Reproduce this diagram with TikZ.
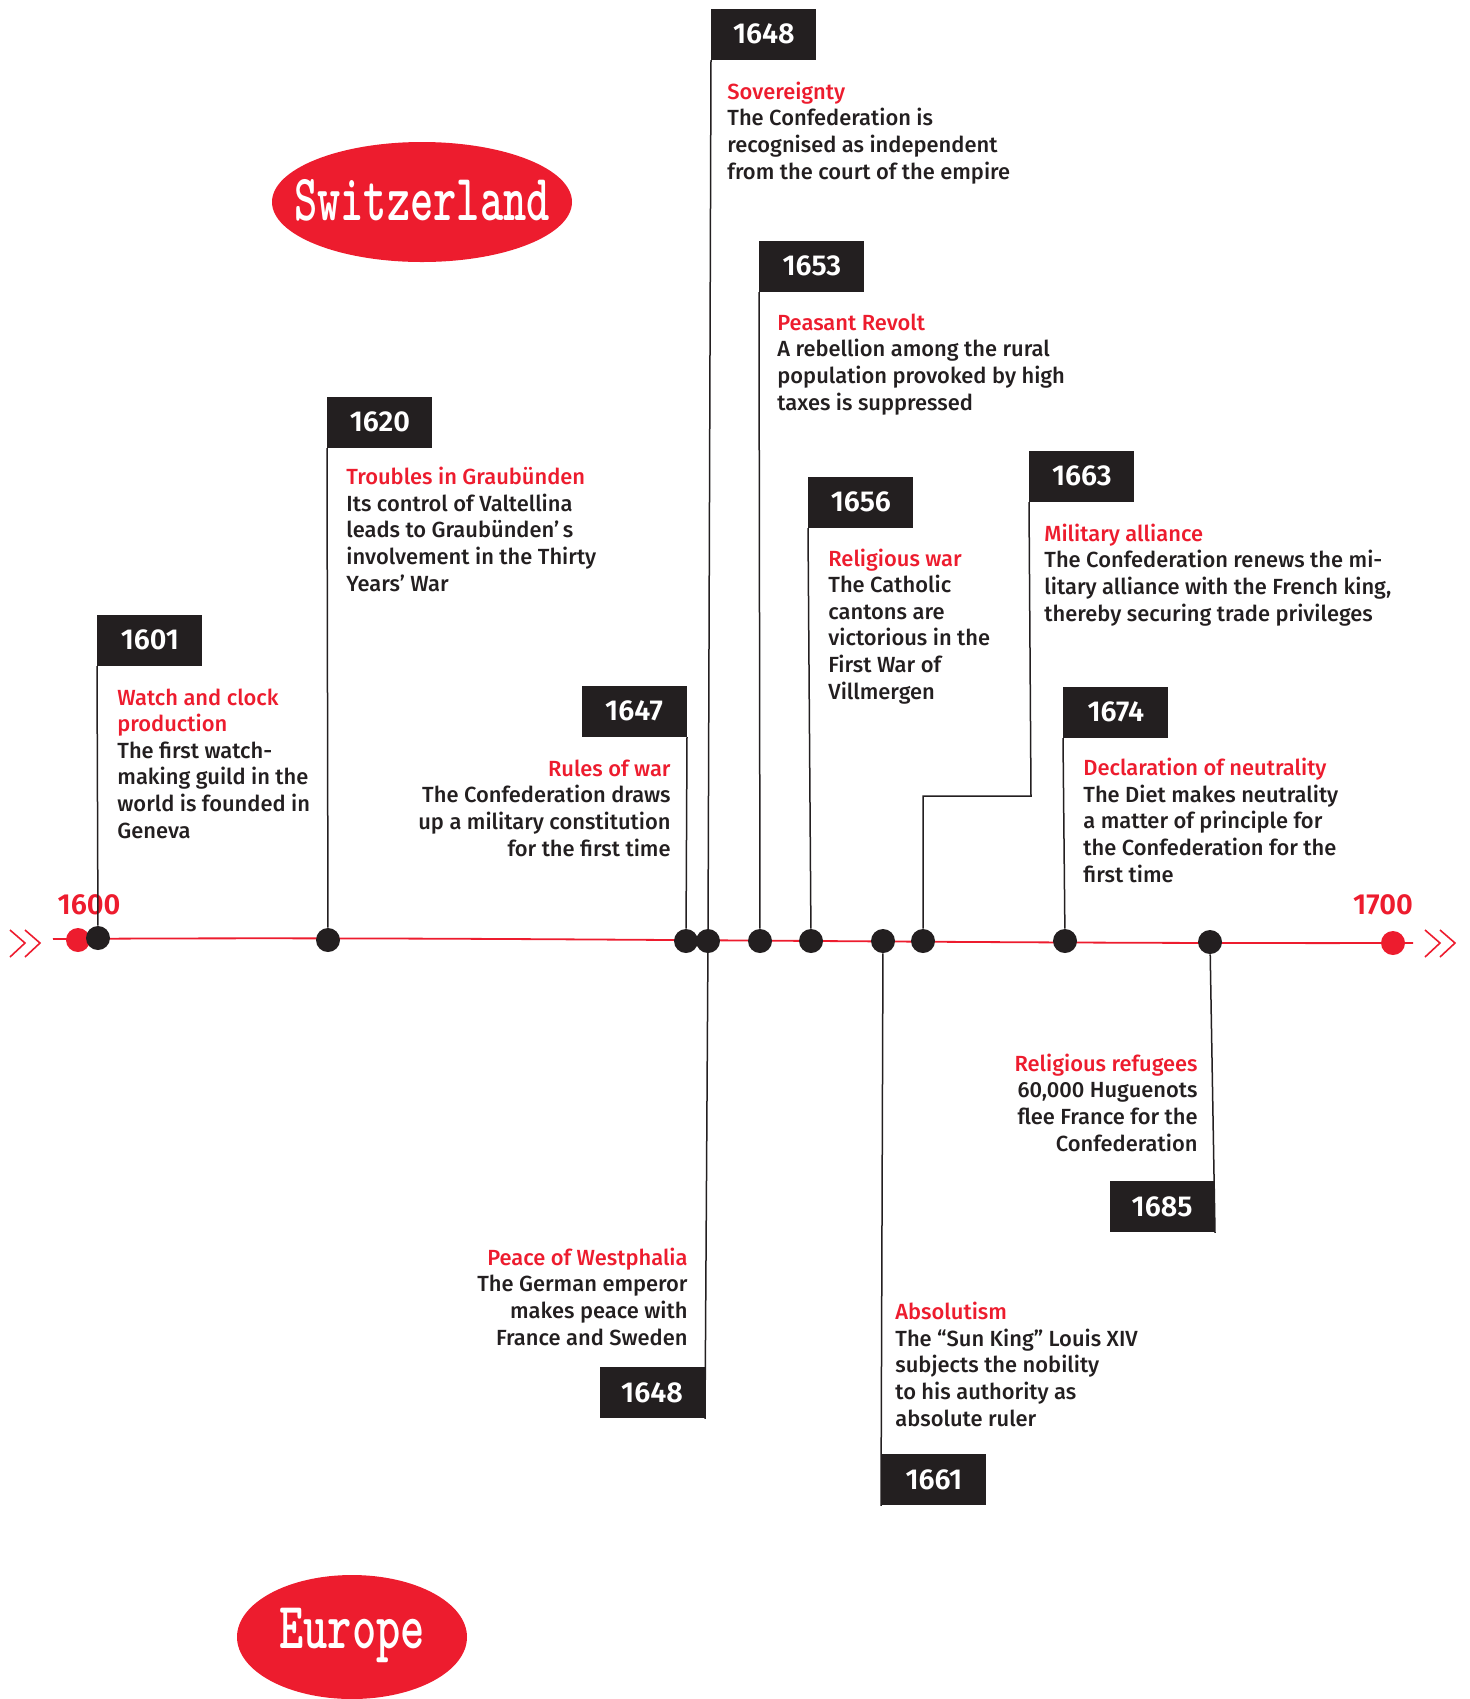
\documentclass[tikz,border=0pt]{standalone}
\usepackage{fontspec}
\setmainfont{Fira Sans}[UprightFont={* Medium},BoldFont={* SemiBold}]

\begin{document}
\begin{tikzpicture}[x=0.5pt,y=-0.5pt,
  flag/.style={fill=inkblack,text=white,minimum width=52.5pt,minimum height=25.5pt,
    inner sep=0pt,font=\fontsize{14.4}{15}\selectfont\bfseries},
  dot/.style={circle,fill=inkblack,minimum size=12pt,inner sep=0pt},
  reddot/.style={circle,fill=swissred,minimum size=12pt,inner sep=0pt},
  pole/.style={draw=inkblack,line width=0.75pt},
  story/.style={inner sep=0pt,text=inkblack,font=\fontsize{10.95}{13.3}\selectfont},
  endyear/.style={text=swissred,font=\fontsize{14.5}{15}\selectfont\bfseries},
  badge/.style={inner sep=0pt,text=white,font=\fontsize{33}{33}\selectfont\ttfamily\bfseries}]
  \definecolor{swissred}{HTML}{ED1C2E}
  \definecolor{inkblack}{HTML}{231F20}
  \useasboundingbox (0,0) rectangle (1470,1699);

  % headings
  \fill[swissred] (422,202) ellipse [x radius=150,y radius=60];
  \fill[swissred] (352,1637) ellipse [x radius=115,y radius=62];
  \node[badge] (swiss) at (422,200) {\scalebox{0.67}[1]{Switzerland}};
  \node[badge] (europe) at (352,1635) {\scalebox{0.7}[1]{Europe}};

  % time axis
  \coordinate (axisL) at (53,939);
  \coordinate (axisR) at (1413,943);
  \draw[swissred,line width=0.9pt] (axisL) .. controls (500,936) and (900,944) .. (axisR);
  \draw[swissred,line width=0.8pt] (10,930) -- (25,943) -- (10,957) (25,930) -- (40,943) -- (25,957);
  \draw[swissred,line width=0.8pt] (1425,930) -- (1440,943) -- (1425,957) (1440,930) -- (1455,943) -- (1440,957);
  \node[endyear] (y1600) at (89,905) {1600};
  \node[endyear] (y1700) at (1383,905) {1700};

  % flags above the axis
  \node[flag,anchor=south west] (f1601) at (97,666) {1601};
  \node[flag,anchor=south west] (f1620) at (327,448) {1620};
  \node[flag,anchor=south east] (f1647) at (687,737) {1647};
  \node[flag,anchor=south west] (f1648a) at (711,60) {1648};
  \node[flag,anchor=south west] (f1653) at (759,292) {1653};
  \node[flag,anchor=south west] (f1656) at (808,528) {1656};
  \node[flag,anchor=south west] (f1663) at (1029,502) {1663};
  \node[flag,anchor=south west] (f1674) at (1063,738) {1674};
  % flags below the axis
  \node[flag,anchor=north east] (f1648b) at (705,1367) {1648};
  \node[flag,anchor=north west] (f1661) at (881,1454) {1661};
  \node[flag,anchor=north east] (f1685) at (1215,1181) {1685};

  % dots
  \node[reddot] (d1600) at (78,940) {};
  \node[reddot] (d1700) at (1393,943) {};
  \foreach \yr/\px/\py in {1601/98/938,1620/328/940,1647/686/941,1648/708/941,
      1653/760/941,1656/811/941,1661/883/941,1663/923/941,1674/1065/941,1685/1210/942}
    \node[dot] (d\yr) at (\px,\py) {};

  % poles
  \draw[pole] (f1601.south west) -- (d1601);
  \draw[pole] (f1620.south west) -- (d1620);
  \draw[pole] (f1647.south east) -- (d1647);
  \draw[pole] (f1648a.south west) -- (d1648.center) -- (f1648b.south east);
  \draw[pole] (f1653.south west) -- (d1653);
  \draw[pole] (f1656.south west) -- (d1656);
  \coordinate (k1663) at (1031,796);
  \draw[pole] (f1663.south west) -- (k1663) -| (d1663);
  \draw[pole] (f1674.south west) -- (d1674);
  \draw[pole] (d1661) -- (f1661.south west);
  \draw[pole] (d1685) -- (f1685.south east);

  % Switzerland
  \node[story,anchor=base west,align=left] (t1601) at (117,838)
    {\textcolor{swissred}{Watch and clock}\\\textcolor{swissred}{production}\\
     The first watch-\\making guild in the\\world is founded in\\Geneva};
  \node[story,anchor=base west,align=left] (t1620) at (346,591)
    {\textcolor{swissred}{Troubles in Graubünden}\\Its control of Valtellina\\
     leads to Graubünden’\,s\\involvement in the Thirty\\Years’ War};
  \node[story,anchor=base east,align=right] (t1647) at (671,856)
    {\textcolor{swissred}{Rules of war}\\The Confederation draws\\
     up a military constitution\\for the first time};
  \node[story,anchor=base west,align=left] (t1648a) at (727,179)
    {\textcolor{swissred}{Sovereignty}\\The Confederation is\\
     recognised as independent\\from the court of the empire};
  \node[story,anchor=base west,align=left] (t1653) at (777,410)
    {\textcolor{swissred}{Peasant Revolt}\\A rebellion among the rural\\
     population provoked by high\\taxes is suppressed};
  \node[story,anchor=base west,align=left] (t1656) at (828,699)
    {\textcolor{swissred}{Religious war}\\The Catholic\\cantons are\\
     victorious in the\\First War of\\Villmergen};
  \node[story,anchor=base west,align=left] (t1663) at (1044,621)
    {\textcolor{swissred}{Military alliance}\\The Confederation renews the mi-\\
     litary alliance with the French king,\\thereby securing trade privileges};
  \node[story,anchor=base west,align=left] (t1674) at (1083,882)
    {\textcolor{swissred}{Declaration of neutrality}\\The Diet makes neutrality\\
     a matter of principle for\\the Confederation for the\\first time};

  % Europe
  \node[story,anchor=base east,align=right] (t1648b) at (688,1345)
    {\textcolor{swissred}{Peace of Westphalia}\\The German emperor\\
     makes peace with\\France and Sweden};
  \node[story,anchor=base west,align=left] (t1661) at (895,1426)
    {\textcolor{swissred}{Absolutism}\\The “Sun King” Louis XIV\\
     subjects the nobility\\to his authority as\\absolute ruler};
  \node[story,anchor=base east,align=right] (t1685) at (1198,1151)
    {\textcolor{swissred}{Religious refugees}\\60,000 Huguenots\\
     flee France for the\\Confederation};
\end{tikzpicture}
\end{document}
